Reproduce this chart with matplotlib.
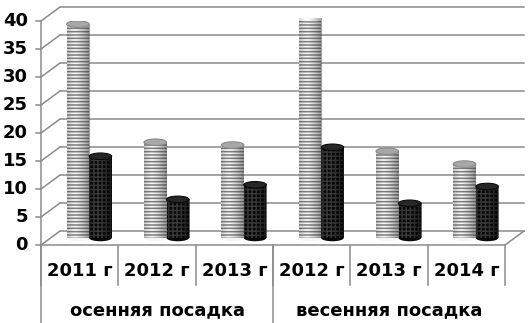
import numpy as np
import matplotlib
matplotlib.use('Agg')
import matplotlib.pyplot as plt
from matplotlib.patches import Ellipse

# ---- data ----
years = ['2011 г', '2012 г', '2013 г', '2012 г', '2013 г', '2014 г']
groups = ['осенняя посадка', 'весенняя посадка']
group_sizes = [3, 3]
series_light = [38.2, 17.1, 16.6, 39.2, 15.5, 13.2]
series_dark = [14.6, 6.9, 9.5, 16.2, 6.2, 9.2]
yticks = [0, 5, 10, 15, 20, 25, 30, 35, 40]

W, H, DPI = 528, 323, 100
fig = plt.figure(figsize=(W / DPI, H / DPI), dpi=DPI)
L, R, B, T = 41, 505, 245, 21  # front frame in pixels (top-origin y)
ax = fig.add_axes([L / W, (H - B) / H, (R - L) / W, (B - T) / H])
n = len(years)
ax.set_xlim(-0.5, n - 0.5)
ax.set_ylim(0, 40)
ax.axis('off')

pxx = n / (R - L)          # data units per pixel, x
pxy = 40 / (B - T)         # data units per pixel, y
dx, dy = 19 * pxx, 14 * pxy  # depth offset
grid_c = '#8c8c8c'
lw = 1.1
font = dict(family='DejaVu Sans', weight='bold', size=13, color='black')

x0, x1 = -0.5, n - 0.5
# back wall gridlines and left wall diagonals
for v in yticks:
    ax.plot([x0 + dx, x1 + dx], [v + dy, v + dy], color=grid_c, lw=lw, clip_on=False, zorder=1)
    ax.plot([x0, x0 + dx], [v, v + dy], color=grid_c, lw=lw, clip_on=False, zorder=1)
    ax.plot([x0 - 5 * pxx, x0], [v, v], color=grid_c, lw=lw, clip_on=False, zorder=1)
    ax.text(x0 - 13 * pxx, v, str(v), ha='right', va='center', **font)
# front axis, floor edges
ax.plot([x0, x0], [0, 40], color=grid_c, lw=lw, clip_on=False, zorder=1)
ax.plot([x0, x1], [0, 0], color=grid_c, lw=lw, clip_on=False, zorder=1)
ax.plot([x1, x1 + dx], [0, dy], color=grid_c, lw=lw, clip_on=False, zorder=1)

# cylinders
bw = 22.5 * pxx
eh = 6.5 * pxy
idx = np.arange(n)


def gradient(xa, xb, ya, yb, z, strength, color):
    t = np.linspace(0, 1, 64)
    a = strength * (np.abs(t - 0.35) / 0.65) ** 1.4
    img = np.zeros((1, 64, 4))
    img[..., :3] = color
    img[..., 3] = a
    ax.imshow(img, extent=[xa, xb, ya, yb], aspect='auto', zorder=z,
              interpolation='bilinear', clip_on=False)


def cylinder(xl, val, face, hatch, hcolor, topface, topedge, z, strength, gcol):
    base = dy / 2
    top = val + dy / 2
    xc = xl + bw / 2
    ax.add_patch(Ellipse((xc, base), bw, eh, facecolor=face, edgecolor='none', zorder=z))
    plt.rcParams['hatch.color'] = hcolor
    ax.bar([xl], [top - base], bottom=base, width=bw, align='edge', color=face,
           hatch=hatch, edgecolor=hcolor, linewidth=0, zorder=z + 0.1)
    gradient(xl, xl + bw, base, top, z + 0.2, strength, gcol)
    ax.add_patch(Ellipse((xc, top), bw, eh, facecolor=topface, edgecolor=topedge,
                         lw=0.8, zorder=z + 0.3))


plt.rcParams['hatch.linewidth'] = 1.1
for i in idx:
    xm = i + dx / 2
    cylinder(xm - bw, series_light[i], '#f6f6f6', '-----', '#7f7f7f', '#a8a8a8', '#8a8a8a', 3, 0.5, 0.2)
    cylinder(xm, series_dark[i], '#080808', '++++', '#3a3a3a', '#262626', '#0a0a0a', 3, 0.6, 0.0)
ax.set_xlim(-0.5, n - 0.5)
ax.set_ylim(0, 40)

# category table
bottom_data = -(H - B) * pxy
for i, yl in enumerate(years):
    ax.text(i, -26 * pxy, yl, ha='center', va='center', **font)
for b in range(n + 1):
    ax.plot([b - 0.5, b - 0.5], [0, -40 * pxy], color=grid_c, lw=lw, clip_on=False)
start = 0
for g, s in zip(groups, group_sizes):
    ax.text(start + s / 2 - 0.5, -65 * pxy, g, ha='center', va='center', **font)
    ax.plot([start - 0.5, start - 0.5], [0, bottom_data], color=grid_c, lw=lw, clip_on=False)
    start += s

fig.savefig('out.png', dpi=DPI)
